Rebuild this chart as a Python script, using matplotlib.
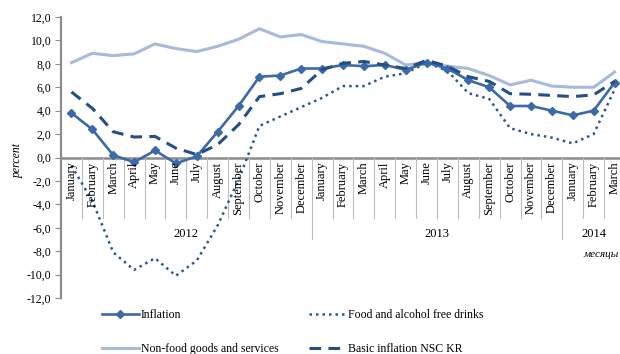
import matplotlib
matplotlib.use('Agg')
import matplotlib.pyplot as plt
import numpy as np

plt.rcParams['font.family'] = 'serif'
plt.rcParams['font.serif'] = ['Liberation Serif', 'DejaVu Serif']
plt.rcParams['axes.unicode_minus'] = False

# Monatsreihen Jan 2012 - Mar 2014
months = ['January', 'February', 'March', 'April', 'May', 'June', 'July',
          'August', 'September', 'October', 'November', 'December'] * 2 + \
         ['January', 'February', 'March']
years = ['2012', '2013', '2014']
year_spans = [(0, 11), (12, 23), (24, 26)]

inflation = [3.8, 2.4, 0.2, -0.4, 0.6, -0.5, 0.1, 2.2, 4.4, 6.9, 7.0, 7.6,
             7.6, 7.9, 7.8, 7.9, 7.5, 8.1, 7.6, 6.6, 6.0, 4.4, 4.4, 4.0,
             3.6, 4.0, 6.4]
food = [-0.7, -3.7, -8.1, -9.6, -8.6, -10.1, -8.8, -5.8, -1.9, 2.7, 3.5, 4.3,
        5.1, 6.1, 6.1, 6.9, 7.2, 8.1, 7.4, 5.5, 5.0, 2.5, 2.0, 1.7,
        1.2, 2.0, 5.8]
nonfood = [8.1, 8.9, 8.7, 8.85, 9.7, 9.3, 9.05, 9.5, 10.1, 11.0, 10.3, 10.5,
           9.9, 9.7, 9.5, 8.9, 7.9, 8.1, 7.8, 7.6, 7.0, 6.2, 6.6, 6.1,
           6.0, 6.0, 7.3]
basic = [5.6, 4.2, 2.2, 1.75, 1.8, 0.8, 0.25, 1.1, 2.8, 5.2, 5.45, 5.9,
         7.5, 8.05, 8.2, 7.9, 7.6, 8.3, 7.8, 6.9, 6.5, 5.45, 5.4, 5.3,
         5.2, 5.35, 6.5]

c_infl = '#3C6AA6'
c_food = '#2B5893'
c_nonfood = '#A7BADB'
c_basic = '#234F86'
c_axis = '#8C8C8C'

fig = plt.figure(figsize=(6.2, 3.54), dpi=100)
ax = fig.add_axes([61 / 620, 1 - 298 / 354, 564 / 620, 281 / 354])

x = np.arange(len(months))
ax.plot(x, nonfood, color=c_nonfood, lw=2.2, label='Non-food goods and services', zorder=2)
ax.plot(x, food, color=c_food, lw=1.8, ls=(0, (1, 1.6)), label='Food and alcohol free drinks', zorder=3)
ax.plot(x, inflation, color=c_infl, lw=1.9, marker='D', ms=4.5, label='Inflation', zorder=4)
ax.plot(x, basic, color=c_basic, lw=2.2, ls=(0, (3.8, 2.4)), label='Basic inflation NSC KR', zorder=5)

ax.set_xlim(-0.5, len(months) - 0.5)
ax.set_ylim(-12, 12)
ax.set_yticks(np.arange(-12, 13, 2))
ax.set_yticklabels([f'{v:.1f}'.replace('.', ',') for v in np.arange(-12, 13, 2)], fontsize=8.5)
ax.set_xticks([])
ax.tick_params(axis='y', direction='out', length=4, color=c_axis, width=0.8, pad=3)

for s in ['top', 'right', 'bottom']:
    ax.spines[s].set_visible(False)
ax.spines['left'].set_color(c_axis)
ax.spines['left'].set_linewidth(1.6)

# Kategorienachse bei 0
ax.axhline(0, color=c_axis, lw=1.8, zorder=1)
for i in range(1, len(months)):
    ybot = -7.0 if i in (12, 24) else -5.15
    ax.plot([i - 0.5, i - 0.5], [0, ybot], color='#BDBDBD', lw=0.8, zorder=1)

for i, m in enumerate(months):
    ax.text(i, -0.35, m, rotation=90, ha='center', va='top', fontsize=9, zorder=6)

for name, (a, b) in zip(years, year_spans):
    ax.text((a + b) / 2, -6.5, name, ha='center', va='center', fontsize=9)

ax.text(26.2, -8.3, 'месяцы', ha='right', va='center', fontsize=8, style='italic')

fig.text(18 / 620, 1 - 160 / 354, 'percent', rotation=90, ha='center', va='center',
         fontsize=8.5, style='italic')

handles, labels = ax.get_legend_handles_labels()
order = [2, 0, 1, 3]
fig.legend([handles[i] for i in order], [labels[i] for i in order],
           loc='upper left', bbox_to_anchor=(102 / 620, 1 - 309 / 354), ncol=2,
           frameon=False, fontsize=8.5, handlelength=3.1, handletextpad=0.2,
           columnspacing=2.6, labelspacing=1.85, borderaxespad=0, borderpad=0)

fig.savefig('out.png', dpi=100, facecolor='white')
